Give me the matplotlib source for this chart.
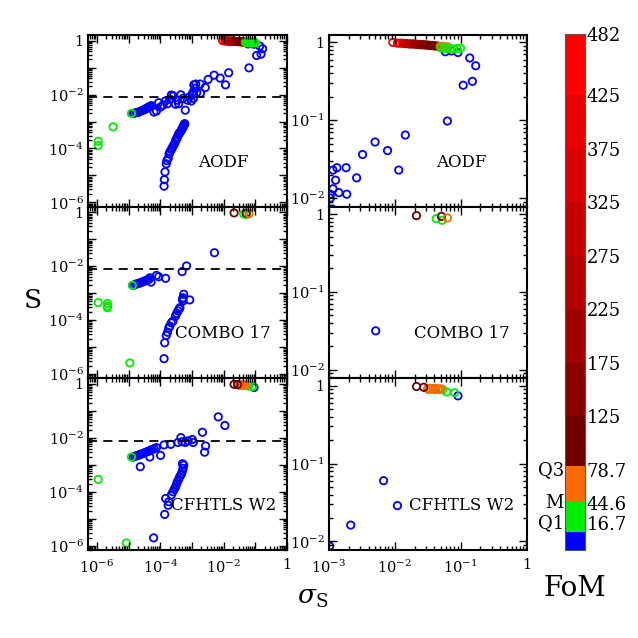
import numpy as np
import matplotlib
matplotlib.use("Agg")
import matplotlib.pyplot as plt
import matplotlib.transforms as mtransforms
from matplotlib.colors import ListedColormap, BoundaryNorm
from matplotlib.ticker import FixedLocator, LogLocator, FuncFormatter, NullFormatter

plt.rcParams['font.family'] = ['DejaVu Serif']
plt.rcParams['mathtext.fontset'] = 'dejavuserif'

# --- colour scale (FoM) ---
fom_bounds = [0, 16.7, 44.6, 78.7, 125, 175, 225, 275, 325, 375, 425, 482]
band_colors = ['#0000ff', '#00ee00', '#ff6a00', '#700000', '#8a0000', '#a00000',
               '#b40000', '#c60000', '#d80000', '#e80000', '#ff0000']
cbar_labels = ['16.7', '44.6', '78.7', '125', '175', '225', '275', '325', '375', '425', '482']
quart_labels = ['Q1', 'M', 'Q3']

# --- data: log10(sigma_S), log10(S) ---
# FoM of the blue (< Q1) and green (Q1..M) points
blue_fom = 8
green_fom = 30

# AODF
aodf_blue_lsig = [-4.86, -4.82, -4.75, -4.71, -4.68, -4.60, -4.56, -4.51, -4.47, -4.44, -4.40,
                  -4.36, -4.32, -4.28, -4.20, -4.12, -4.05, -3.99, -3.91, -3.84, -3.77, -3.70,
                  -3.65, -3.59, -3.52, -3.46, -3.42, -3.35, -3.28, -3.21, -3.14, -3.08, -3.02,
                  -2.95,
                  -3.88, -3.87, -3.85, -3.81, -3.79, -3.75, -3.72, -3.69, -3.65, -3.62, -3.59,
                  -3.55, -3.52, -3.50, -3.48, -3.46, -3.43, -3.41, -3.39, -3.36, -3.34, -3.32,
                  -3.30, -3.28, -3.26, -3.24, -3.23,
                  -2.98, -2.98, -2.94, -2.94, -2.90, -2.88, -2.85, -2.74, -2.73, -2.58, -2.49,
                  -2.30, -2.11, -1.94, -1.84, -1.20, -0.96, -0.82, -0.77, -0.86, -1.04, -1.23,
                  -1.14]
aodf_blue_lS = [-2.70, -2.69, -2.67, -2.66, -2.65, -2.61, -2.59, -2.56, -2.54, -2.51, -2.49,
                -2.46, -2.44, -2.41, -2.65, -2.61, -2.30, -2.46, -2.39, -2.24, -2.34, -2.17,
                -2.02, -2.05, -2.36, -2.21, -2.34, -2.01, -2.14, -2.58, -2.21, -2.09, -2.24,
                -2.14,
                -5.40, -5.16, -4.87, -4.57, -4.45, -4.37, -4.20, -4.12, -4.04, -3.98, -3.90,
                -3.83, -3.73, -3.68, -3.63, -3.58, -3.50, -3.45, -3.42, -3.38, -3.33, -3.29,
                -3.25, -3.20, -3.16, -3.11, -3.08,
                -2.00, -1.95, -1.88, -1.64, -1.77, -1.61, -1.93, -1.61, -1.95, -1.74, -1.44,
                -1.28, -1.39, -1.64, -1.19, -1.01, -0.55, -0.50, -0.30, -0.20, -0.13, -0.12,
                -0.11]
aodf_green_lsig = [-5.96, -5.96, -5.49, -4.91]
aodf_green_lS = [-3.73, -3.89, -3.20, -2.70]
aodf_top_lsig = [-2.03, -1.96, -1.92, -1.88, -1.85, -1.82, -1.79, -1.76, -1.73, -1.70, -1.67,
                 -1.64, -1.61, -1.58, -1.55, -1.52, -1.49, -1.46, -1.43, -1.40, -1.37, -1.34,
                 -1.31, -1.28, -1.25, -1.22, -1.19,
                 -1.30, -1.25, -1.20, -1.15, -1.10, -1.05, -1.00]
aodf_top_lS = [0.00, -0.01, -0.01, -0.01, -0.015, -0.015, -0.02, -0.02, -0.02, -0.02, -0.025,
               -0.025, -0.03, -0.03, -0.03, -0.035, -0.035, -0.04, -0.04, -0.045, -0.045, -0.05,
               -0.05, -0.055, -0.055, -0.06, -0.06,
               -0.07, -0.075, -0.08, -0.08, -0.085, -0.08, -0.075]
aodf_top_fom = [482, 420, 380, 350, 320, 300, 280, 260, 240, 220, 200,
                185, 170, 155, 140, 128, 118, 108, 100, 92, 86, 80,
                75, 68, 60, 52, 47,
                40, 35, 30, 28, 25, 22, 20]

# COMBO 17
combo_blue_lsig = [-4.85, -4.78, -4.73, -4.68, -4.63, -4.57, -4.52, -4.47, -4.41, -4.36, -4.33,
                   -4.29, -4.12, -4.05, -3.83, -3.31, -3.17, -2.29,
                   -3.88, -3.86, -3.81, -3.77, -3.73, -3.70, -3.65, -3.60, -3.52, -3.48, -3.44,
                   -3.40, -3.38, -3.28, -3.28, -3.26, -3.07, -3.30]
combo_blue_lS = [-2.71, -2.67, -2.65, -2.64, -2.61, -2.59, -2.56, -2.54, -2.51, -2.49, -2.43,
                 -2.59, -2.34, -2.39, -2.45, -2.20, -1.99, -1.50,
                 -5.43, -4.84, -4.57, -4.45, -4.29, -4.22, -4.10, -4.04, -3.85, -3.75, -3.66,
                 -3.58, -3.54, -3.29, -3.17, -3.04, -3.25, -3.23]
combo_green_lsig = [-5.96, -5.67, -5.67, -5.67, -4.96, -4.88]
combo_green_lS = [-3.35, -3.38, -3.48, -3.54, -5.59, -2.71]
combo_top_lsig = [-1.67, -1.37, -1.28, -1.29, -1.20]
combo_top_lS = [-0.02, -0.06, -0.08, -0.03, -0.05]
combo_top_fom = [100, 30, 25, 95, 60]

# CFHTLS W2
cfh_blue_lsig = [-4.85, -4.79, -4.74, -4.68, -4.63, -4.57, -4.52, -4.46, -4.41, -4.36, -4.30,
                 -4.25, -4.19, -4.12, -4.63, -4.33, -3.99, -3.88, -3.67, -3.44, -3.35, -3.31,
                 -3.21, -3.12, -2.96, -2.60, -2.57,
                 -4.21, -3.86, -3.83, -3.75, -3.73, -3.65, -3.60, -3.56, -3.52, -3.49, -3.46,
                 -3.42, -3.39, -3.35, -3.33, -3.30, -3.28, -3.30, -3.26,
                 -2.99, -2.67, -2.17, -1.96, -1.04]
cfh_blue_lS = [-2.71, -2.68, -2.66, -2.64, -2.61, -2.59, -2.56, -2.54, -2.51, -2.49, -2.45,
               -2.43, -2.40, -2.36, -3.07, -2.71, -2.65, -2.26, -2.24, -2.17, -1.99, -2.14,
               -2.17, -2.11, -2.17, -2.53, -2.30,
               -5.71, -4.84, -4.25, -4.50, -4.37, -4.12, -4.00, -3.91, -3.83, -3.73, -3.63,
               -3.54, -3.45, -3.38, -3.33, -3.23, -3.13, -2.96, -3.01,
               -2.06, -1.79, -1.22, -1.54, -0.13]
cfh_green_lsig = [-5.96, -5.07, -4.91]
cfh_green_lS = [-3.54, -5.90, -2.71]
cfh_top_lsig = [-1.48, -1.40, -1.32, -1.27, -1.21, -1.09,
                -1.50, -1.46, -1.42, -1.38, -1.34, -1.30, -1.67, -1.56]
cfh_top_lS = [-0.05, -0.05, -0.05, -0.05, -0.08, -0.09,
              -0.035, -0.035, -0.035, -0.035, -0.04, -0.04, -0.01, -0.02]
cfh_top_fom = [40, 35, 30, 25, 22, 20, 70, 65, 60, 55, 50, 48, 100, 95]

surveys = ['AODF', 'COMBO 17', 'CFHTLS W2']
survey_data = [
    (aodf_blue_lsig, aodf_blue_lS, aodf_green_lsig, aodf_green_lS,
     aodf_top_lsig, aodf_top_lS, aodf_top_fom),
    (combo_blue_lsig, combo_blue_lS, combo_green_lsig, combo_green_lS,
     combo_top_lsig, combo_top_lS, combo_top_fom),
    (cfh_blue_lsig, cfh_blue_lS, cfh_green_lsig, cfh_green_lS,
     cfh_top_lsig, cfh_top_lS, cfh_top_fom),
]
s_cut = 8e-3

# decades carrying a major tick, per column (x, y)
left_decades = (list(range(-6, 1)), list(range(-6, 1)))
right_decades = (list(range(-3, 1)), list(range(-2, 1)))

cmap = ListedColormap(band_colors)
norm = BoundaryNorm(fom_bounds, cmap.N)

W = 638.0
fig = plt.figure(figsize=(6.38, 6.38), dpi=100)

col_x = [(88, 287), (329, 527)]
row_top = 35
row_h = (550 - 35) / 3.0


def fmt_left(v, pos):
    e = int(round(np.log10(v)))
    if e == 0:
        return '1'
    if e % 2:
        return ''
    return r'$10^{%d}$' % e


def fmt_right(v, pos):
    e = int(round(np.log10(v)))
    if e == 0:
        return '1'
    return r'$10^{%d}$' % e


label_pos = [(0.68, 0.26), (0.67, 0.26)]

for i, name in enumerate(surveys):
    b_x, b_y, g_x, g_y, t_x, t_y, t_f = survey_data[i]
    sig = 10 ** np.concatenate([b_x, g_x, t_x])
    S = 10 ** np.concatenate([b_y, g_y, t_y])
    fom = np.concatenate([[blue_fom] * len(b_x), [green_fom] * len(g_x), t_f])
    cols = cmap(norm(fom))
    top = row_top + i * row_h
    for j in range(2):
        x0, x1 = col_x[j]
        ax = fig.add_axes([x0 / W, 1 - (top + row_h) / W, (x1 - x0) / W, row_h / W])
        ax.set_xscale('log')
        ax.set_yscale('log')
        ax.scatter(sig, S, s=28, facecolors='none', edgecolors=cols, linewidths=1.3)
        if j == 0:
            ax.axhline(s_cut, color='black', lw=1.3, ls=(0, (5, 3.5)))
            ax.set_xlim(10 ** -6.28, 1)
            ax.set_ylim(10 ** -6.16, 10 ** 0.21)
            fmt = fmt_left
            decs = left_decades
        else:
            ax.set_xlim(10 ** -3.0, 10 ** 0.01)
            ax.set_ylim(10 ** -2.11, 10 ** 0.095)
            fmt = fmt_right
            decs = right_decades
        for axis, d in zip((ax.xaxis, ax.yaxis), decs):
            axis.set_major_locator(FixedLocator([10.0 ** e for e in d]))
            axis.set_minor_locator(LogLocator(base=10, subs=np.arange(2, 10), numticks=20))
            axis.set_major_formatter(FuncFormatter(fmt))
            axis.set_minor_formatter(NullFormatter())
        ax.tick_params(which='both', direction='in', top=True, right=True,
                       labelsize=10.5, width=1.0)
        ax.tick_params(which='major', length=6)
        ax.tick_params(which='minor', length=3)
        ax.tick_params(axis='x', pad=6)
        ax.tick_params(axis='y', pad=3)
        if i < 2:
            ax.tick_params(labelbottom=False)
        for sp in ax.spines.values():
            sp.set_linewidth(1.5)
        ax.text(label_pos[j][0], label_pos[j][1], name, transform=ax.transAxes,
                ha='center', va='center', fontsize=12)

# axis titles
fig.text(33 / W, 1 - 300 / W, 'S', fontsize=19, ha='center', va='center')
fig.text(313 / W, 1 - 597 / W, r'$\sigma_{\rm S}$', fontsize=19, ha='center', va='center')

# colour bar
cax = fig.add_axes([565 / W, 1 - 550 / W, 20 / W, 516 / W])
cax.bar(0.5, np.diff(fom_bounds), bottom=fom_bounds[:-1], width=1, color=band_colors)
cax.set_xlim(0, 1)
cax.set_ylim(0, fom_bounds[-1])
cax.set_xticks([])
cax.yaxis.tick_right()
cbar_label_y = [25, 44, 75, 125, 175, 225, 275, 325, 375, 425, 482]
cax.set_yticks(cbar_label_y, labels=cbar_labels)
cax.tick_params(axis='y', length=0, pad=1, labelsize=13)
for sp in cax.spines.values():
    sp.set_linewidth(0.8)
    sp.set_color('#555555')
tr = mtransforms.blended_transform_factory(cax.transAxes, cax.transData)
for q, yq in zip(quart_labels, cbar_label_y[:3]):
    cax.text(-0.05, yq, q, transform=tr, ha='right', va='center', fontsize=13)
fig.text(575 / W, 1 - 588 / W, 'FoM', fontsize=20, ha='center', va='center')

fig.savefig('out.png', dpi=100)
